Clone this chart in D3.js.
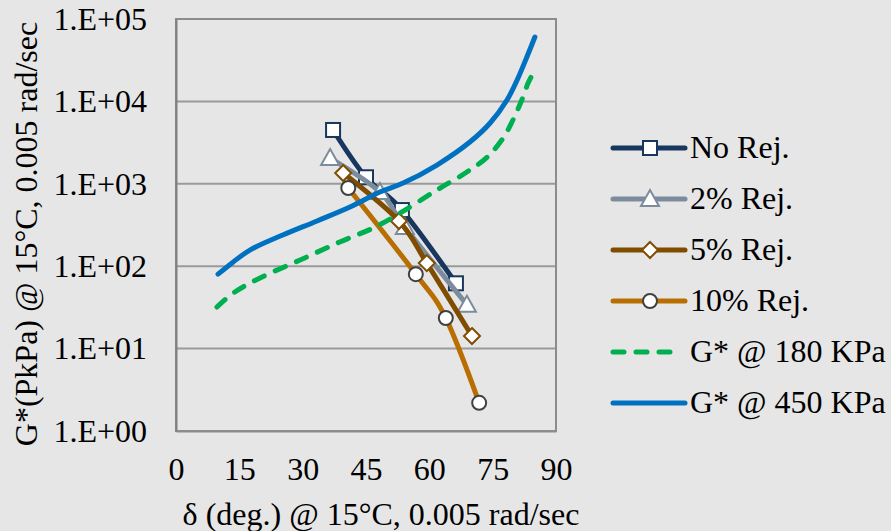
<!DOCTYPE html>
<html><head><meta charset="utf-8">
<script src="https://cdn.jsdelivr.net/npm/d3@7"></script>
<style>
html,body{margin:0;padding:0;background:#e6e6e6;}
svg{display:block;font-family:"Liberation Serif","Times New Roman",serif;}
</style></head><body>
<svg id="chart" width="891" height="531"></svg>
<script>
// ---- data ----
const xTicks = [0, 15, 30, 45, 60, 75, 90];
const yTicks = [1, 10, 100, 1000, 10000, 100000];
const yTickLabels = ["1.E+00", "1.E+01", "1.E+02", "1.E+03", "1.E+04", "1.E+05"];

const noRejX = [37.2, 45.0, 53.5, 66.3];
const noRejY = [4500, 1200, 480, 62];
const rej2X = [36.5, 48.3, 54.2, 68.9];
const rej2Y = [2050, 795, 299, 34];
const rej5X = [39.6, 52.8, 59.4, 70.1];
const rej5Y = [1350, 354, 109, 14.2];
const rej10X = [40.8, 56.8, 63.9, 71.8];
const rej10Y = [890, 80, 23.5, 2.2];

const g180X = [9.7, 13.5, 19.9, 29.4, 38.8, 46.7, 53.1, 61.8, 68.9, 73.7, 77.5, 79.8, 81.9, 83.4, 84.6];
const g180Y = [32, 47, 72, 119, 197, 291, 442, 841, 1390, 2110, 3600, 5950, 10400, 16700, 22100];
const g450X = [9.95, 13.5, 17.5, 25.3, 33.4, 41.2, 48.3, 53.8, 61.8, 69.6, 74.4, 78.4, 80.8, 83.1, 85.0];
const g450Y = [80, 112, 157, 239, 354, 523, 795, 1020, 1690, 3210, 5470, 10400, 18200, 34600, 60500];

const seriesNames = ["No Rej.", "2% Rej.", "5% Rej.", "10% Rej.", "G* @ 180 KPa", "G* @ 450 KPa"];

// ---- styles ----
const series = [
  {name: seriesNames[0], xs: noRejX, ys: noRejY, color: "#17375e", marker: "square", mstroke: "#17375e", curve: d3.curveCardinal.tension(0)},
  {name: seriesNames[1], xs: rej2X, ys: rej2Y, color: "#7d8c9c", marker: "triangle", mstroke: "#7d8c9c", curve: d3.curveCardinal.tension(0)},
  {name: seriesNames[2], xs: rej5X, ys: rej5Y, color: "#7f4c00", marker: "diamond", mstroke: "#7f4c00", curve: d3.curveCardinal.tension(0)},
  {name: seriesNames[3], xs: rej10X, ys: rej10Y, color: "#b86e00", marker: "circle", mstroke: "#404040", curve: d3.curveCardinal.tension(0)},
  {name: seriesNames[4], xs: g180X, ys: g180Y, color: "#00b050", marker: null, dash: "11 12", curve: d3.curveCatmullRom},
  {name: seriesNames[5], xs: g450X, ys: g450Y, color: "#0070c0", marker: null, curve: d3.curveCatmullRom}
];

const svg = d3.select("#chart");
const pLeft = 176, pRight = 556, pTop = 19, pBottom = 431;
const x = d3.scaleLinear().domain([0, 90]).range([pLeft, pRight]);
const y = d3.scaleLog().domain([1, 100000]).range([pBottom, pTop]);

svg.append("rect").attr("width", 891).attr("height", 531).attr("fill", "#e6e6e6");

// gridlines
svg.append("g").selectAll("line").data(yTicks).join("line")
  .attr("x1", pLeft).attr("x2", pRight)
  .attr("y1", d => y(d)).attr("y2", d => y(d))
  .attr("stroke", "#9a9a9a").attr("stroke-width", 2);

// plot border
svg.append("rect").attr("x", pLeft).attr("y", pTop).attr("width", pRight - pLeft).attr("height", pBottom - pTop)
  .attr("fill", "none").attr("stroke", "#8c8c8c").attr("stroke-width", 2);

// y axis
const yAxis = d3.axisLeft(y).tickValues(yTicks).tickSize(0).tickPadding(29)
  .tickFormat((d, i) => yTickLabels[i]);
const gy = svg.append("g").attr("transform", `translate(${pLeft},0)`).call(yAxis);
gy.select(".domain").attr("stroke", "#808080").attr("stroke-width", 2);
gy.selectAll("text").attr("font-size", 32).attr("font-family", "Liberation Serif").attr("fill", "#000").attr("dy", "0.32em");

// x axis
const xAxis = d3.axisBottom(x).tickValues(xTicks).tickSize(0).tickPadding(26).tickFormat(d3.format("d"));
const gx = svg.append("g").attr("transform", `translate(0,${pBottom})`).call(xAxis);
gx.select(".domain").attr("stroke", "#8c8c8c").attr("stroke-width", 2);
gx.selectAll("text").attr("font-size", 32).attr("font-family", "Liberation Serif").attr("fill", "#000").attr("dy", "0.71em");

// axis titles
svg.append("text").attr("x", 381).attr("y", 525).attr("text-anchor", "middle")
  .attr("font-size", 32).text("δ (deg.) @ 15°C, 0.005 rad/sec");
svg.append("text").attr("transform", "translate(37,234) rotate(-90)").attr("text-anchor", "middle")
  .attr("font-size", 32).text("G*(PkPa) @ 15°C, 0.005 rad/sec");

function drawMarker(g, type, cx, cy, stroke) {
  if (type === "square") {
    g.append("rect").attr("x", cx - 7).attr("y", cy - 7).attr("width", 14).attr("height", 14)
      .attr("fill", "#fff").attr("stroke", stroke).attr("stroke-width", 2);
  } else if (type === "triangle") {
    g.append("path").attr("d", `M${cx},${cy - 9}L${cx + 9},${cy + 7}L${cx - 9},${cy + 7}Z`)
      .attr("fill", "#fff").attr("stroke", stroke).attr("stroke-width", 2);
  } else if (type === "diamond") {
    g.append("path").attr("d", `M${cx},${cy - 8}L${cx + 8},${cy}L${cx},${cy + 8}L${cx - 8},${cy}Z`)
      .attr("fill", "#fff").attr("stroke", stroke).attr("stroke-width", 2);
  } else if (type === "circle") {
    g.append("circle").attr("cx", cx).attr("cy", cy).attr("r", 7)
      .attr("fill", "#fff").attr("stroke", stroke).attr("stroke-width", 2);
  }
}

// series
series.forEach(s => {
  const pts = s.xs.map((v, i) => [v, s.ys[i]]);
  const line = d3.line().x(d => x(d[0])).y(d => y(d[1])).curve(s.curve);
  const g = svg.append("g");
  g.append("path").attr("d", line(pts)).attr("fill", "none").attr("stroke", s.color)
    .attr("stroke-width", 5).attr("stroke-linecap", "round").attr("stroke-linejoin", "round")
    .attr("stroke-dasharray", s.dash || null);
  if (s.marker) pts.forEach(p => drawMarker(g, s.marker, x(p[0]), y(p[1]), s.mstroke));
});

// legend
const legY0 = 148, legStep = 51;
series.forEach((s, i) => {
  const cy = legY0 + i * legStep;
  const g = svg.append("g");
  g.append("line").attr("x1", 613).attr("x2", s.dash ? 680 : 685).attr("y1", cy).attr("y2", cy)
    .attr("stroke", s.color).attr("stroke-width", 5).attr("stroke-linecap", "round")
    .attr("stroke-dasharray", s.dash || null);
  if (s.marker) drawMarker(g, s.marker, 650, cy, s.mstroke);
  g.append("text").attr("x", 690).attr("y", cy + 10).attr("font-size", 32).text(s.name);
});
</script>
</body></html>
